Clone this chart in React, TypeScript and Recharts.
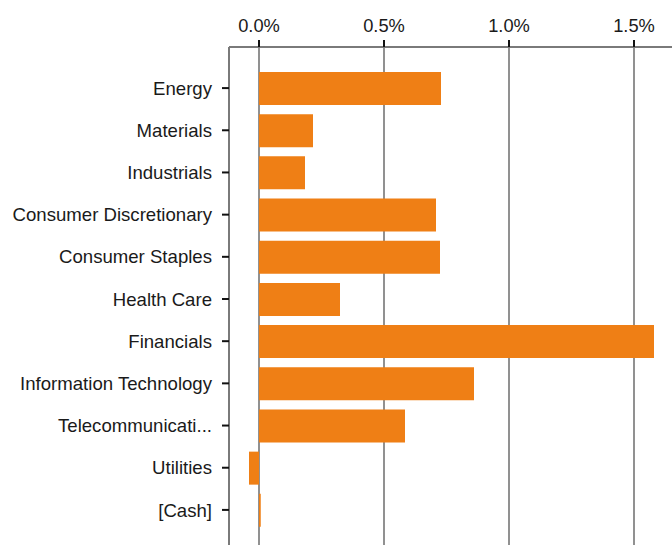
import { Bar, BarChart, CartesianGrid, XAxis, YAxis } from "recharts";

const sectors = [
  "Energy",
  "Materials",
  "Industrials",
  "Consumer Discretionary",
  "Consumer Staples",
  "Health Care",
  "Financials",
  "Information Technology",
  "Telecommunication Services",
  "Utilities",
  "[Cash]",
];

// contribution in percent
const contribution = [0.728, 0.216, 0.184, 0.708, 0.724, 0.324, 1.58, 0.86, 0.584, -0.04, 0.007];

const xTicks = [0, 0.5, 1.0, 1.5];

const data = sectors.map((name, i) => ({ name, value: contribution[i] }));

const shorten = (s: string) => (s.length > 22 ? s.slice(0, 15) + "..." : s);

export default function App() {
  return (
    <div
      style={{
        position: "absolute",
        left: 8,
        top: 8,
        width: 664,
        height: 537,
        overflow: "hidden",
        fontFamily: "'Liberation Sans', Arial, sans-serif",
      }}
    >
      <BarChart
        width={680}
        height={537}
        data={data}
        layout="vertical"
        margin={{ top: 0, right: 0, bottom: 0, left: 0 }}
      >
        <CartesianGrid horizontal={false} stroke="#919191" strokeWidth={2} />
        <XAxis
          type="number"
          orientation="top"
          domain={[-0.12, 1.716]}
          ticks={xTicks}
          allowDataOverflow
          height={39}
          tickFormatter={(v: number) => v.toFixed(1) + "%"}
          tick={{ fill: "#1a1a1a", fontSize: 18.3 }}
          tickSize={7}
          tickMargin={8}
          tickLine={{ stroke: "#111", strokeWidth: 2 }}
          axisLine={{ stroke: "#7a7a7a", strokeWidth: 2 }}
        />
        <YAxis
          type="category"
          dataKey="name"
          width={221}
          interval={0}
          padding={{ top: 20, bottom: 14 }}
          tickFormatter={shorten}
          tick={{ fill: "#1a1a1a", fontSize: 18.6 }}
          tickSize={7}
          tickMargin={10}
          tickLine={{ stroke: "#111", strokeWidth: 2 }}
          axisLine={{ stroke: "#7a7a7a", strokeWidth: 2 }}
        />
        <Bar dataKey="value" fill="#ef7f15" barSize={33} isAnimationActive={false} />
      </BarChart>
    </div>
  );
}
